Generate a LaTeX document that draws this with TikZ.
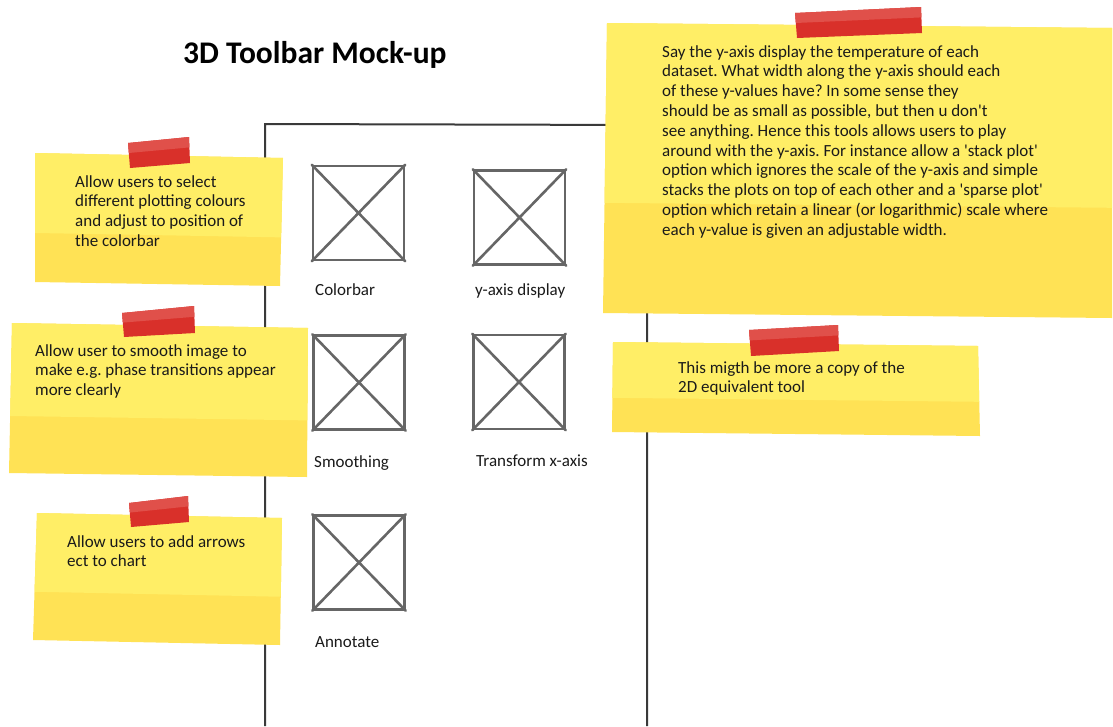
\documentclass[tikz,border=0pt]{standalone}
\usepackage{fontspec}
\setmainfont{Carlito}
\usetikzlibrary{calc}
\frenchspacing
\definecolor{framegray}{HTML}{3A3A3A}
\definecolor{phgray}{HTML}{666666}
\definecolor{textblack}{HTML}{1A1A1A}
\definecolor{noteLight}{HTML}{FFEE66}
\definecolor{noteDark}{HTML}{FFE255}
\definecolor{tapeRed}{HTML}{D9302A}
\definecolor{tapeLight}{HTML}{E0504A}
\newcommand\lineset[1]{\vtop{\baselineskip=19.8pt\lineskip=0pt\lineskiplimit=-20pt\halign{##\hfil\cr#1\crcr}}}
\newcommand\sticky[9]{%
  \coordinate (#1a) at (#2); \coordinate (#1b) at (#3);
  \coordinate (#1c) at (#4); \coordinate (#1d) at (#5);
  \fill[noteDark] (#1a) -- (#1b) -- (#1c) -- (#1d) -- cycle;
  \fill[noteLight] (#1a) -- (#1b) -- ($(#1b)!.62!(#1c)$) -- ($(#1a)!.62!(#1d)$) -- cycle;
  \coordinate (#1ta) at (#6); \coordinate (#1tb) at (#7);
  \coordinate (#1tc) at (#8); \coordinate (#1td) at (#9);
  \fill[tapeRed] (#1ta) -- (#1tb) -- (#1tc) -- (#1td) -- cycle;
  \fill[tapeLight] (#1ta) -- (#1tb) -- ($(#1tb)!.4!(#1tc)$) -- ($(#1ta)!.4!(#1td)$) -- cycle;
}
\begin{document}
\begin{tikzpicture}[x=1pt,y=-1pt,
  frameline/.style={draw=framegray, line width=2pt},
  phbox/.style={draw=phgray, line width=2.6pt, rectangle, inner sep=0pt, minimum width=91pt, minimum height=94pt},
  phline/.style={draw=phgray, line width=2.6pt, line cap=round},
  lbl/.style={anchor=base west, inner sep=0pt, font=\fontsize{17}{19}\selectfont, text=textblack},
  notetext/.style={anchor=base west, inner sep=0pt, font=\fontsize{17}{19.8}\selectfont, text=textblack},
  titletext/.style={anchor=base west, inner sep=0pt, font=\fontsize{31.5}{34}\selectfont\bfseries, text=black}]
\useasboundingbox (0,0) rectangle (1113,726);
\fill[white] (0,0) rectangle (1113,726);
% title
\node[titletext] (title) at (183,63) {3D Toolbar Mock-up};
% frame
\coordinate (fbl) at (265,726);
\coordinate (ftl) at (265,124);
\coordinate (ftr) at (647,125);
\coordinate (fbr) at (647,726);
\draw[frameline] (fbl) -- (ftl) -- (ftr) -- (fbr);
% placeholders
\foreach \n/\cx/\cy in {cb/358.5/213, ya/519.5/217.5, sm/359/382.5, tx/519/382, an/359/562.5}{
  \node[phbox] (\n) at (\cx,\cy) {};
  \draw[phline] (\n.north west) -- (\n.south east);
  \draw[phline] (\n.north east) -- (\n.south west);
}
\node[lbl] (lcb) at (315,295) {Colorbar};
\node[lbl] (lya) at (475,295) {y-axis display};
\node[lbl] (lsm) at (314,467) {Smoothing};
\node[lbl] (ltx) at (476,466) {Transform x-axis};
\node[lbl] (lan) at (315,647) {Annotate};
% sticky notes
\sticky{na}{35,153}{283,158}{280,286}{35,282}{128,143}{189,137}{190,163}{130,168}
\sticky{nb}{12,323}{308,328}{307,477}{9,473}{122,313}{194,306}{195,333}{124,337}
\sticky{nc}{37,513}{282,518}{280,645}{33,640}{129,503}{188,496}{189,522}{131,527}
\sticky{nd}{607,23}{1112,28}{1112,318}{603,313}{795,13}{921,7}{922,33}{797,38}
\sticky{ne}{613,342}{978,346}{980,436}{612,432}{749,330}{838,325}{839,351}{751,356}
\node[notetext] (ta) at (75,187) {\lineset{Allow users to select\cr different plotting colours\cr and adjust to position of\cr the colorbar}};
\node[notetext] (tb) at (35,356) {\lineset{Allow user to smooth image to\cr make e.g. phase transitions appear\cr more clearly}};
\node[notetext] (tc) at (67,547) {\lineset{Allow users to add arrows\cr ect to chart}};
\node[notetext] (td) at (662,57) {\lineset{Say the y-axis display the temperature of each\cr dataset. What width along the y-axis should each\cr of these y-values have? In some sense they\cr should be as small as possible, but then u don\textquotesingle t\cr see anything. Hence this tools allows users to play\cr around with the y-axis. For instance allow a \textquotesingle stack plot\textquotesingle\cr option which ignores the scale of the y-axis and simple\cr stacks the plots on top of each other and a \textquotesingle sparse plot\textquotesingle\cr option which retain a linear (or logarithmic) scale where\cr each y-value is given an adjustable width.}};
\node[notetext] (te) at (678,373) {\lineset{This migth be more a copy of the\cr 2D equivalent tool}};
\end{tikzpicture}
\end{document}
